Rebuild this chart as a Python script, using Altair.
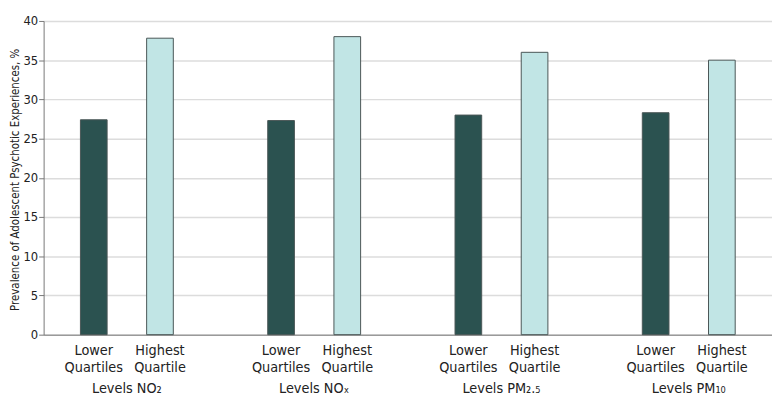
import altair as alt
import pandas as pd

pollutants = ["Levels NO₂", "Levels NOₓ", "Levels PM₂.₅", "Levels PM₁₀"]
quartiles = ["Lower Quartiles", "Highest Quartile"]
quartile_labels = ["Lower\nQuartiles", "Highest\nQuartile"]
lower = [27.4, 27.3, 28.0, 28.3]
highest = [37.8, 38.0, 36.0, 35.0]

rows = []
for i, p in enumerate(pollutants):
    rows.append({"pollutant": p, "quartile": quartiles[0], "label": quartile_labels[0], "value": lower[i]})
    rows.append({"pollutant": p, "quartile": quartiles[1], "label": quartile_labels[1], "value": highest[i]})
df = pd.DataFrame(rows)

FONT = "DejaVu Sans Condensed, Liberation Sans Narrow, Roboto, sans-serif"
FS = 14.5

x_enc = alt.X("pollutant:N", sort=pollutants,
              scale=alt.Scale(paddingInner=0.111, paddingOuter=0),
              axis=alt.Axis(title=None, labelAngle=0, ticks=False, labelPadding=47,
                            domainColor="#777777", labelFontSize=FS, labelColor="#222222"))
xo_enc = alt.XOffset("quartile:N", sort=quartiles,
                     scale=alt.Scale(paddingInner=0.597, paddingOuter=0.556))

bars = alt.Chart(df).mark_bar(stroke="#4a5656", strokeWidth=1).encode(
    x=x_enc,
    xOffset=xo_enc,
    y=alt.Y("value:Q", scale=alt.Scale(domain=[0, 40]),
            axis=alt.Axis(title="Prevalence of Adolescent Psychotic Experiences, %",
                          values=list(range(0, 41, 5)), tickSize=5, tickColor="#777777",
                          domainColor="#777777", gridColor="#dcdcdc", gridWidth=1.5,
                          labelFontSize=13, labelColor="#222222", labelPadding=1,
                          titleFontSize=11.5, titleFontWeight="normal", titleColor="#222222",
                          titleX=-23, titleY=160)),
    color=alt.Color("quartile:N", sort=quartiles,
                    scale=alt.Scale(domain=quartiles, range=["#2b5250", "#c1e5e5"]),
                    legend=None),
)

labels = alt.Chart(df).mark_text(baseline="top", align="center", lineBreak="\n",
                                 lineHeight=16.5, fontSize=FS, color="#222222").encode(
    x=x_enc,
    xOffset=xo_enc,
    y=alt.value(327),
    text="label:N",
)

chart = alt.layer(bars, labels).properties(
    width=736, height=317,
    autosize=alt.AutoSizeParams(type="none"),
    padding={"left": 36, "top": 11, "right": 0, "bottom": 70},
).configure(font=FONT).configure_view(stroke=None)

chart.save("out.html", embed_options={"renderer": "svg", "actions": False})
